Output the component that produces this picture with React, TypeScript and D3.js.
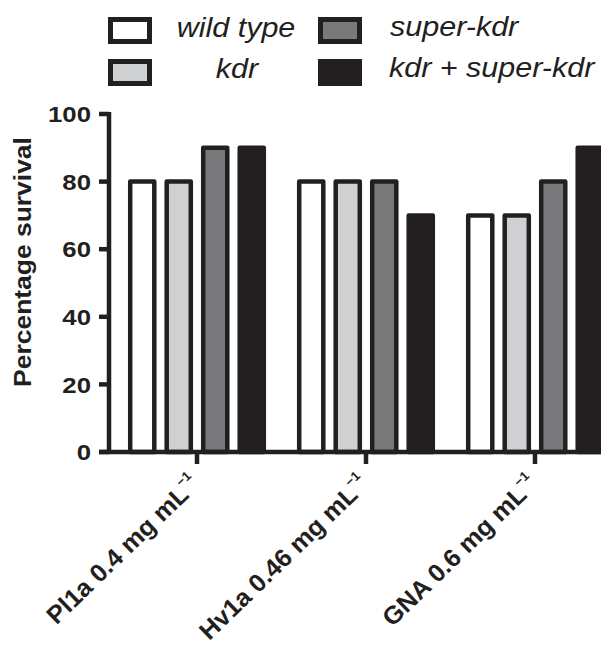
import React from "react";
import * as d3 from "d3";

const categories = ["Pl1a 0.4 mg mL", "Hv1a 0.46 mg mL", "GNA 0.6 mg mL"];
const series = ["wild type", "kdr", "super-kdr", "kdr + super-kdr"];
const wildType = [80, 80, 70];
const kdr = [80, 80, 70];
const superKdr = [90, 80, 80];
const kdrSuperKdr = [90, 70, 90];
const seriesValues = [wildType, kdr, superKdr, kdrSuperKdr];
const seriesColors = ["#ffffff", "#cfd0d2", "#79797c", "#231f20"];
const yTicks = [0, 20, 40, 60, 80, 100];

const W = 601;
const H = 647;
const FONT = "'Liberation Sans', Arial, Helvetica, sans-serif";
const INK = "#231f20";

export default function App() {
  const x0 = d3.scaleBand<string>().domain(categories).range([112.5, 619.5]).padding(0);
  const groupW = 146;
  const x1 = d3
    .scaleBand<string>()
    .domain(series)
    .range([0, groupW])
    .paddingInner(0.34)
    .paddingOuter(0.17);
  const y = d3.scaleLinear().domain([0, 100]).range([452, 114]);
  const axisX = 109;
  const groupOffset = (x0.bandwidth() - groupW) / 2;

  const legendItems = [
    { s: 0, bx: 110.5, by: 19.5, tx: 236, ty: 37, anchor: "middle" },
    { s: 1, bx: 110.5, by: 61.5, tx: 237, ty: 78, anchor: "middle" },
    { s: 2, bx: 320.5, by: 19.5, tx: 390, ty: 36, anchor: "start" },
    { s: 3, bx: 320.5, by: 61.5, tx: 389, ty: 77, anchor: "start" },
  ];

  return (
    <svg width={W} height={H} style={{ display: "block", position: "absolute", left: 0, top: 0 }}>
      <rect x={0} y={0} width={W} height={H} fill="#fff" />
      {/* legend */}
      {legendItems.map((l) => (
        <g key={series[l.s]}>
          <rect
            x={l.bx}
            y={l.by}
            width={39}
            height={22}
            fill={seriesColors[l.s]}
            stroke={INK}
            strokeWidth={5}
          />
          <text
            transform={`translate(${l.tx},${l.ty}) scale(1.09,1)`}
            textAnchor={l.anchor}
            fontFamily={FONT}
            fontStyle="italic"
            fontSize={28}
            fill={INK}
          >
            {series[l.s]}
          </text>
        </g>
      ))}

      {/* bars */}
      {categories.map((c, ci) => (
        <g key={c} transform={`translate(${(x0(c) ?? 0) + groupOffset},0)`}>
          {series.map((s, si) => {
            const v = seriesValues[si][ci];
            return (
              <rect
                key={s}
                x={x1(s)}
                y={y(v)}
                width={x1.bandwidth()}
                height={y(0) - y(v)}
                fill={seriesColors[si]}
                stroke={INK}
                strokeWidth={4.5}
                strokeLinejoin="round"
              />
            );
          })}
        </g>
      ))}

      {/* y axis */}
      <line x1={axisX} x2={axisX} y1={y(100) - 2} y2={y(0)} stroke={INK} strokeWidth={4.5} />
      {yTicks.map((t) => (
        <g key={t}>
          <line x1={99} x2={axisX} y1={y(t)} y2={y(t)} stroke={INK} strokeWidth={4.5} />
          <text
            transform={`translate(91,${y(t)}) scale(1.12,1)`}
            dy="0.36em"
            textAnchor="end"
            fontFamily={FONT}
            fontWeight="bold"
            fontSize={23}
            fill={INK}
          >
            {t}
          </text>
        </g>
      ))}
      <text
        transform={`translate(23,262) rotate(-90) scale(1.15,1)`}
        dy="0.35em"
        textAnchor="middle"
        fontFamily={FONT}
        fontWeight="bold"
        fontSize={23}
        fill={INK}
      >
        Percentage survival
      </text>

      {/* x axis */}
      <line x1={99} x2={W + 5} y1={y(0)} y2={y(0)} stroke={INK} strokeWidth={4.5} />
      {categories.map((c) => {
        const cx = (x0(c) ?? 0) + x0.bandwidth() / 2;
        return (
          <g key={c}>
            <line x1={cx} x2={cx} y1={y(0)} y2={y(0) + 12} stroke={INK} strokeWidth={4.5} />
            <text
              transform={`translate(${cx + 4},486) rotate(-44) scale(1.02,1)`}
              textAnchor="end"
              fontFamily={FONT}
              fontWeight="bold"
              fontSize={25}
              fill={INK}
            >
              {c}
              <tspan fontSize={13} dy={-13}>
                {"\u22121"}
              </tspan>
            </text>
          </g>
        );
      })}
    </svg>
  );
}
